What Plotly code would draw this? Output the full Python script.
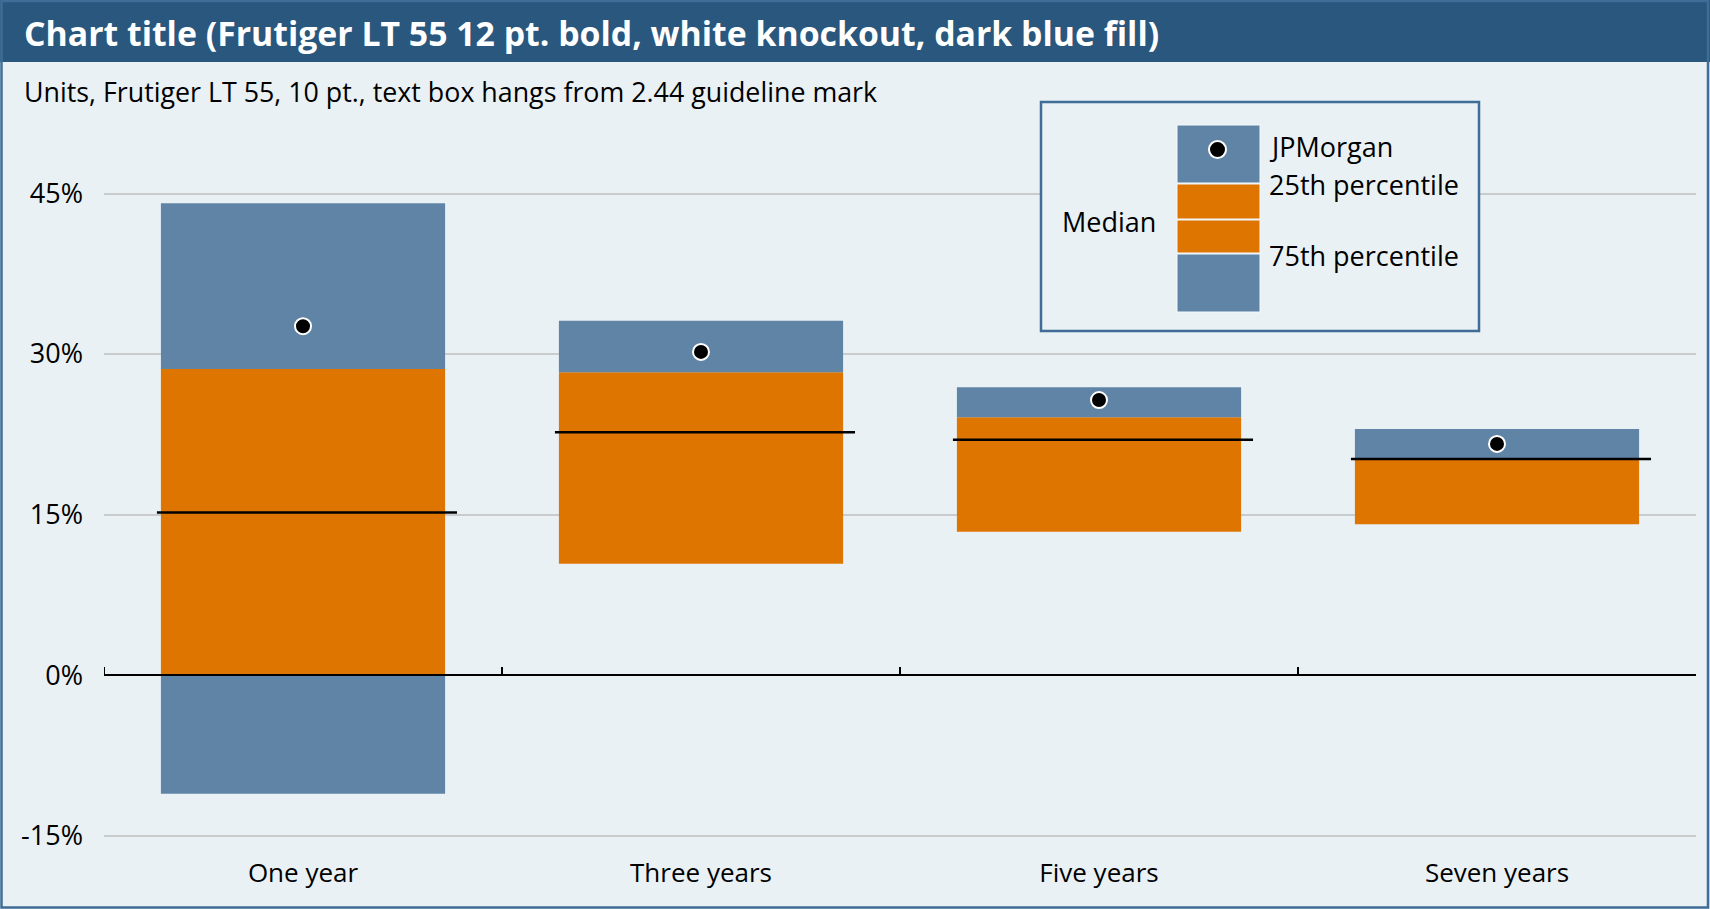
import plotly.graph_objects as go

# ---------------- data ----------------
categories = ["One year", "Three years", "Five years", "Seven years"]
lower_blue_bottom = [-11.1, 10.4, 13.4, 14.1]   # bottom of lower blue segment
orange_bottom = [0.0, 10.4, 13.4, 14.1]         # bottom of orange segment (75th pct edge)
pct25 = [28.6, 28.3, 24.1, 20.2]                # orange/blue boundary (25th pct)
upper_blue_top = [44.1, 33.1, 26.9, 23.0]       # top of upper blue segment
median = [15.2, 22.7, 22.0, 20.2]
jpmorgan = [32.6, 30.2, 25.7, 21.6]
y_ticks = [-15, 0, 15, 30, 45]
y_tick_labels = ["-15%", "0%", "15%", "30%", "45%"]

# ---------------- style ----------------
BLUE = "#5f84a6"
ORANGE = "#dd7500"
BG = "#e9f1f5"
DARK = "#29577d"
FRAME = "#3f6d97"
GRID = "#c9cbcc"
FONT = "Open Sans"

W, H = 1710, 909
L, R, T, B = 104, 1696, 160, 857
BAR_W = 0.714

def px_x(px):
    return (px - L) / (R - L)

def px_y(py):
    return (B - py) / (B - T)

x = list(range(len(categories)))

fig = go.Figure()

fig.add_bar(x=x, y=[o - b for o, b in zip(orange_bottom, lower_blue_bottom)], base=lower_blue_bottom,
            width=BAR_W, marker=dict(color=BLUE, line=dict(width=0)), hoverinfo="skip")
fig.add_bar(x=x, y=[p - o for p, o in zip(pct25, orange_bottom)], base=orange_bottom,
            width=BAR_W, marker=dict(color=ORANGE, line=dict(width=0)), hoverinfo="skip")
fig.add_bar(x=x, y=[t - p for t, p in zip(upper_blue_top, pct25)], base=pct25,
            width=BAR_W, marker=dict(color=BLUE, line=dict(width=0)), hoverinfo="skip")

# median lines
mx, my = [], []
for i, m in zip(x, median):
    mx += [i - 0.367, i + 0.387, None]
    my += [m, m, None]
fig.add_scatter(x=mx, y=my, mode="lines", line=dict(color="black", width=2.5), hoverinfo="skip")

# JPMorgan dots
fig.add_scatter(x=x, y=jpmorgan, mode="markers",
                marker=dict(color="black", size=16, line=dict(color="white", width=2)), hoverinfo="skip")

shapes = []
# zero axis line (above bars)
shapes.append(dict(type="line", xref="x", yref="y", x0=-0.5, x1=len(categories) - 0.5, y0=0, y1=0,
                   line=dict(color="black", width=2), layer="above"))
# tick marks at category boundaries pointing up
for i in x:
    shapes.append(dict(type="line", xref="x", yref="y", x0=i - 0.5, x1=i - 0.5, y0=0, y1=0.75,
                       line=dict(color="black", width=2), layer="above"))

# title bar
shapes.append(dict(type="rect", xref="paper", yref="paper", x0=px_x(0), x1=px_x(W), y0=px_y(62), y1=px_y(0),
                   fillcolor=DARK, line=dict(width=0), layer="above"))
# outer frame
shapes.append(dict(type="rect", xref="paper", yref="paper", x0=px_x(1.5), x1=px_x(W - 2), y0=px_y(H - 1.5), y1=px_y(1),
                   fillcolor="rgba(0,0,0,0)", line=dict(color=FRAME, width=2.5), layer="above"))

# legend box
shapes.append(dict(type="rect", xref="paper", yref="paper", x0=px_x(1041), x1=px_x(1479), y0=px_y(331), y1=px_y(102),
                   fillcolor=BG, line=dict(color=FRAME, width=2.5), layer="above"))
for (y0, y1, c) in [(125, 183, BLUE), (184, 219, ORANGE), (220, 253, ORANGE), (254, 312, BLUE)]:
    shapes.append(dict(type="rect", xref="paper", yref="paper", x0=px_x(1177), x1=px_x(1260),
                       y0=px_y(y1), y1=px_y(y0), fillcolor=c, line=dict(color="#f4f8fa", width=1), layer="above"))
shapes.append(dict(type="circle", xref="paper", yref="paper", x0=px_x(1209), x1=px_x(1226),
                   y0=px_y(158), y1=px_y(141), fillcolor="black", line=dict(color="white", width=2), layer="above"))

LEG = 27
annotations = [
    dict(text="<b>Chart title (Frutiger LT 55 12 pt. bold, white knockout, dark blue fill)</b>",
         xref="paper", yref="paper", x=px_x(22), y=px_y(33), xanchor="left", yanchor="middle",
         showarrow=False, font=dict(family=FONT, size=33.8, color="white")),
    dict(text="Units, Frutiger LT 55, 10 pt., text box hangs from 2.44 guideline mark",
         xref="paper", yref="paper", x=px_x(22), y=px_y(92), xanchor="left", yanchor="middle",
         showarrow=False, font=dict(family=FONT, size=26.8, color="black")),
    dict(text="JPMorgan", xref="paper", yref="paper", x=px_x(1267), y=px_y(146), xanchor="left", yanchor="middle",
         showarrow=False, font=dict(family=FONT, size=LEG, color="black")),
    dict(text="25th percentile", xref="paper", yref="paper", x=px_x(1267), y=px_y(184), xanchor="left", yanchor="middle",
         showarrow=False, font=dict(family=FONT, size=LEG, color="black")),
    dict(text="75th percentile", xref="paper", yref="paper", x=px_x(1267), y=px_y(256), xanchor="left", yanchor="middle",
         showarrow=False, font=dict(family=FONT, size=LEG, color="black")),
    dict(text="Median", xref="paper", yref="paper", x=px_x(1158), y=px_y(221), xanchor="right", yanchor="middle",
         showarrow=False, font=dict(family=FONT, size=LEG, color="black")),
]

fig.update_layout(
    width=W, height=H, autosize=False,
    margin=dict(l=L, r=W - R, t=T, b=H - B, pad=0),
    paper_bgcolor=BG, plot_bgcolor=BG,
    barmode="overlay", showlegend=False,
    font=dict(family=FONT, color="black"),
    shapes=shapes, annotations=annotations,
    xaxis=dict(range=[-0.5, len(categories) - 0.5], tickvals=x, ticktext=categories,
               showgrid=False, zeroline=False, showline=False, ticks="",
               ticklabelstandoff=-2,
               tickfont=dict(family=FONT, size=26, color="black"), fixedrange=True),
    yaxis=dict(range=[-17.0, 48.13], tickvals=y_ticks, ticktext=y_tick_labels,
               showgrid=True, gridcolor=GRID, gridwidth=2, zeroline=False, showline=False, ticks="",
               ticklabelstandoff=20,
               tickfont=dict(family=FONT, size=27, color="black"), fixedrange=True),
)

fig.write_html("out.html", config={"displayModeBar": False})
